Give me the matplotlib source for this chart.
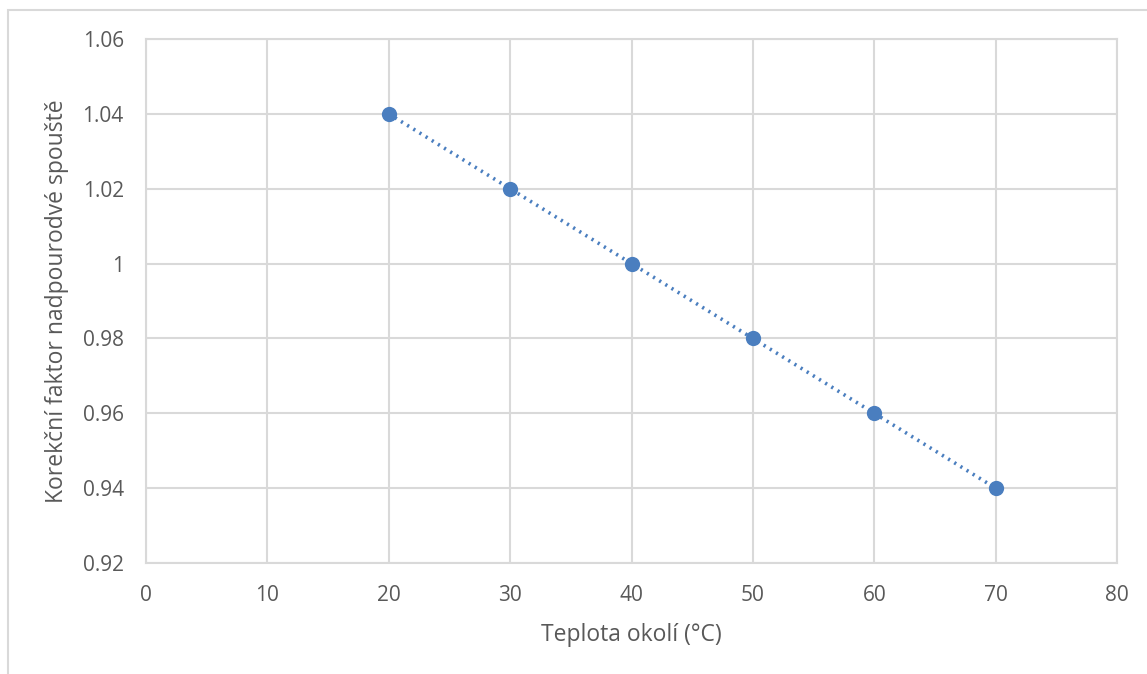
import matplotlib.pyplot as plt
from matplotlib.patches import Rectangle

# data
teplota = [20, 30, 40, 50, 60, 70]
faktor = [1.04, 1.02, 1.00, 0.98, 0.96, 0.94]
x_ticks = [0, 10, 20, 30, 40, 50, 60, 70, 80]
y_ticks = [0.92, 0.94, 0.96, 0.98, 1.00, 1.02, 1.04, 1.06]
y_labels = ["0.92", "0.94", "0.96", "0.98", "1", "1.02", "1.04", "1.06"]

plt.rcParams['font.family'] = ['Open Sans', 'DejaVu Sans']
blue = "#4a7ebf"
grid = "#d9d9d9"
txt = "#595959"

fig = plt.figure(figsize=(11.47, 6.74), dpi=100)
# outer chart frame
fig.patches.append(Rectangle((8 / 1147, -0.1), 1.2, 1 - 10 / 674 + 0.1,
                             transform=fig.transFigure, fill=False,
                             edgecolor=grid, linewidth=1.5))

ax = fig.add_axes([146 / 1147, 1 - 563 / 674, (1117 - 146) / 1147, (563 - 39) / 674])
ax.plot(teplota, faktor, linestyle=(0, (0.6, 1.4)), linewidth=2.6, color=blue,
        marker="o", markersize=11, markeredgewidth=0, zorder=3)

ax.set_xlim(0, 80)
ax.set_ylim(0.92, 1.06)
ax.set_xticks(x_ticks)
ax.set_yticks(y_ticks)
ax.set_yticklabels(y_labels)
ax.grid(True, color=grid, linewidth=1.5)
ax.set_axisbelow(True)
for s in ax.spines.values():
    s.set_color(grid)
    s.set_linewidth(1.5)
ax.tick_params(length=0, colors=txt, labelsize=15, pad=16)
ax.tick_params(axis="y", pad=16)

ax.set_xlabel("Teplota okolí (°C)", fontsize=16.5, color=txt, labelpad=12)
ax.set_ylabel("Korekční faktor nadpourodvé spouště", fontsize=16.5, color=txt, labelpad=10)

fig.savefig("out.png", dpi=100)
